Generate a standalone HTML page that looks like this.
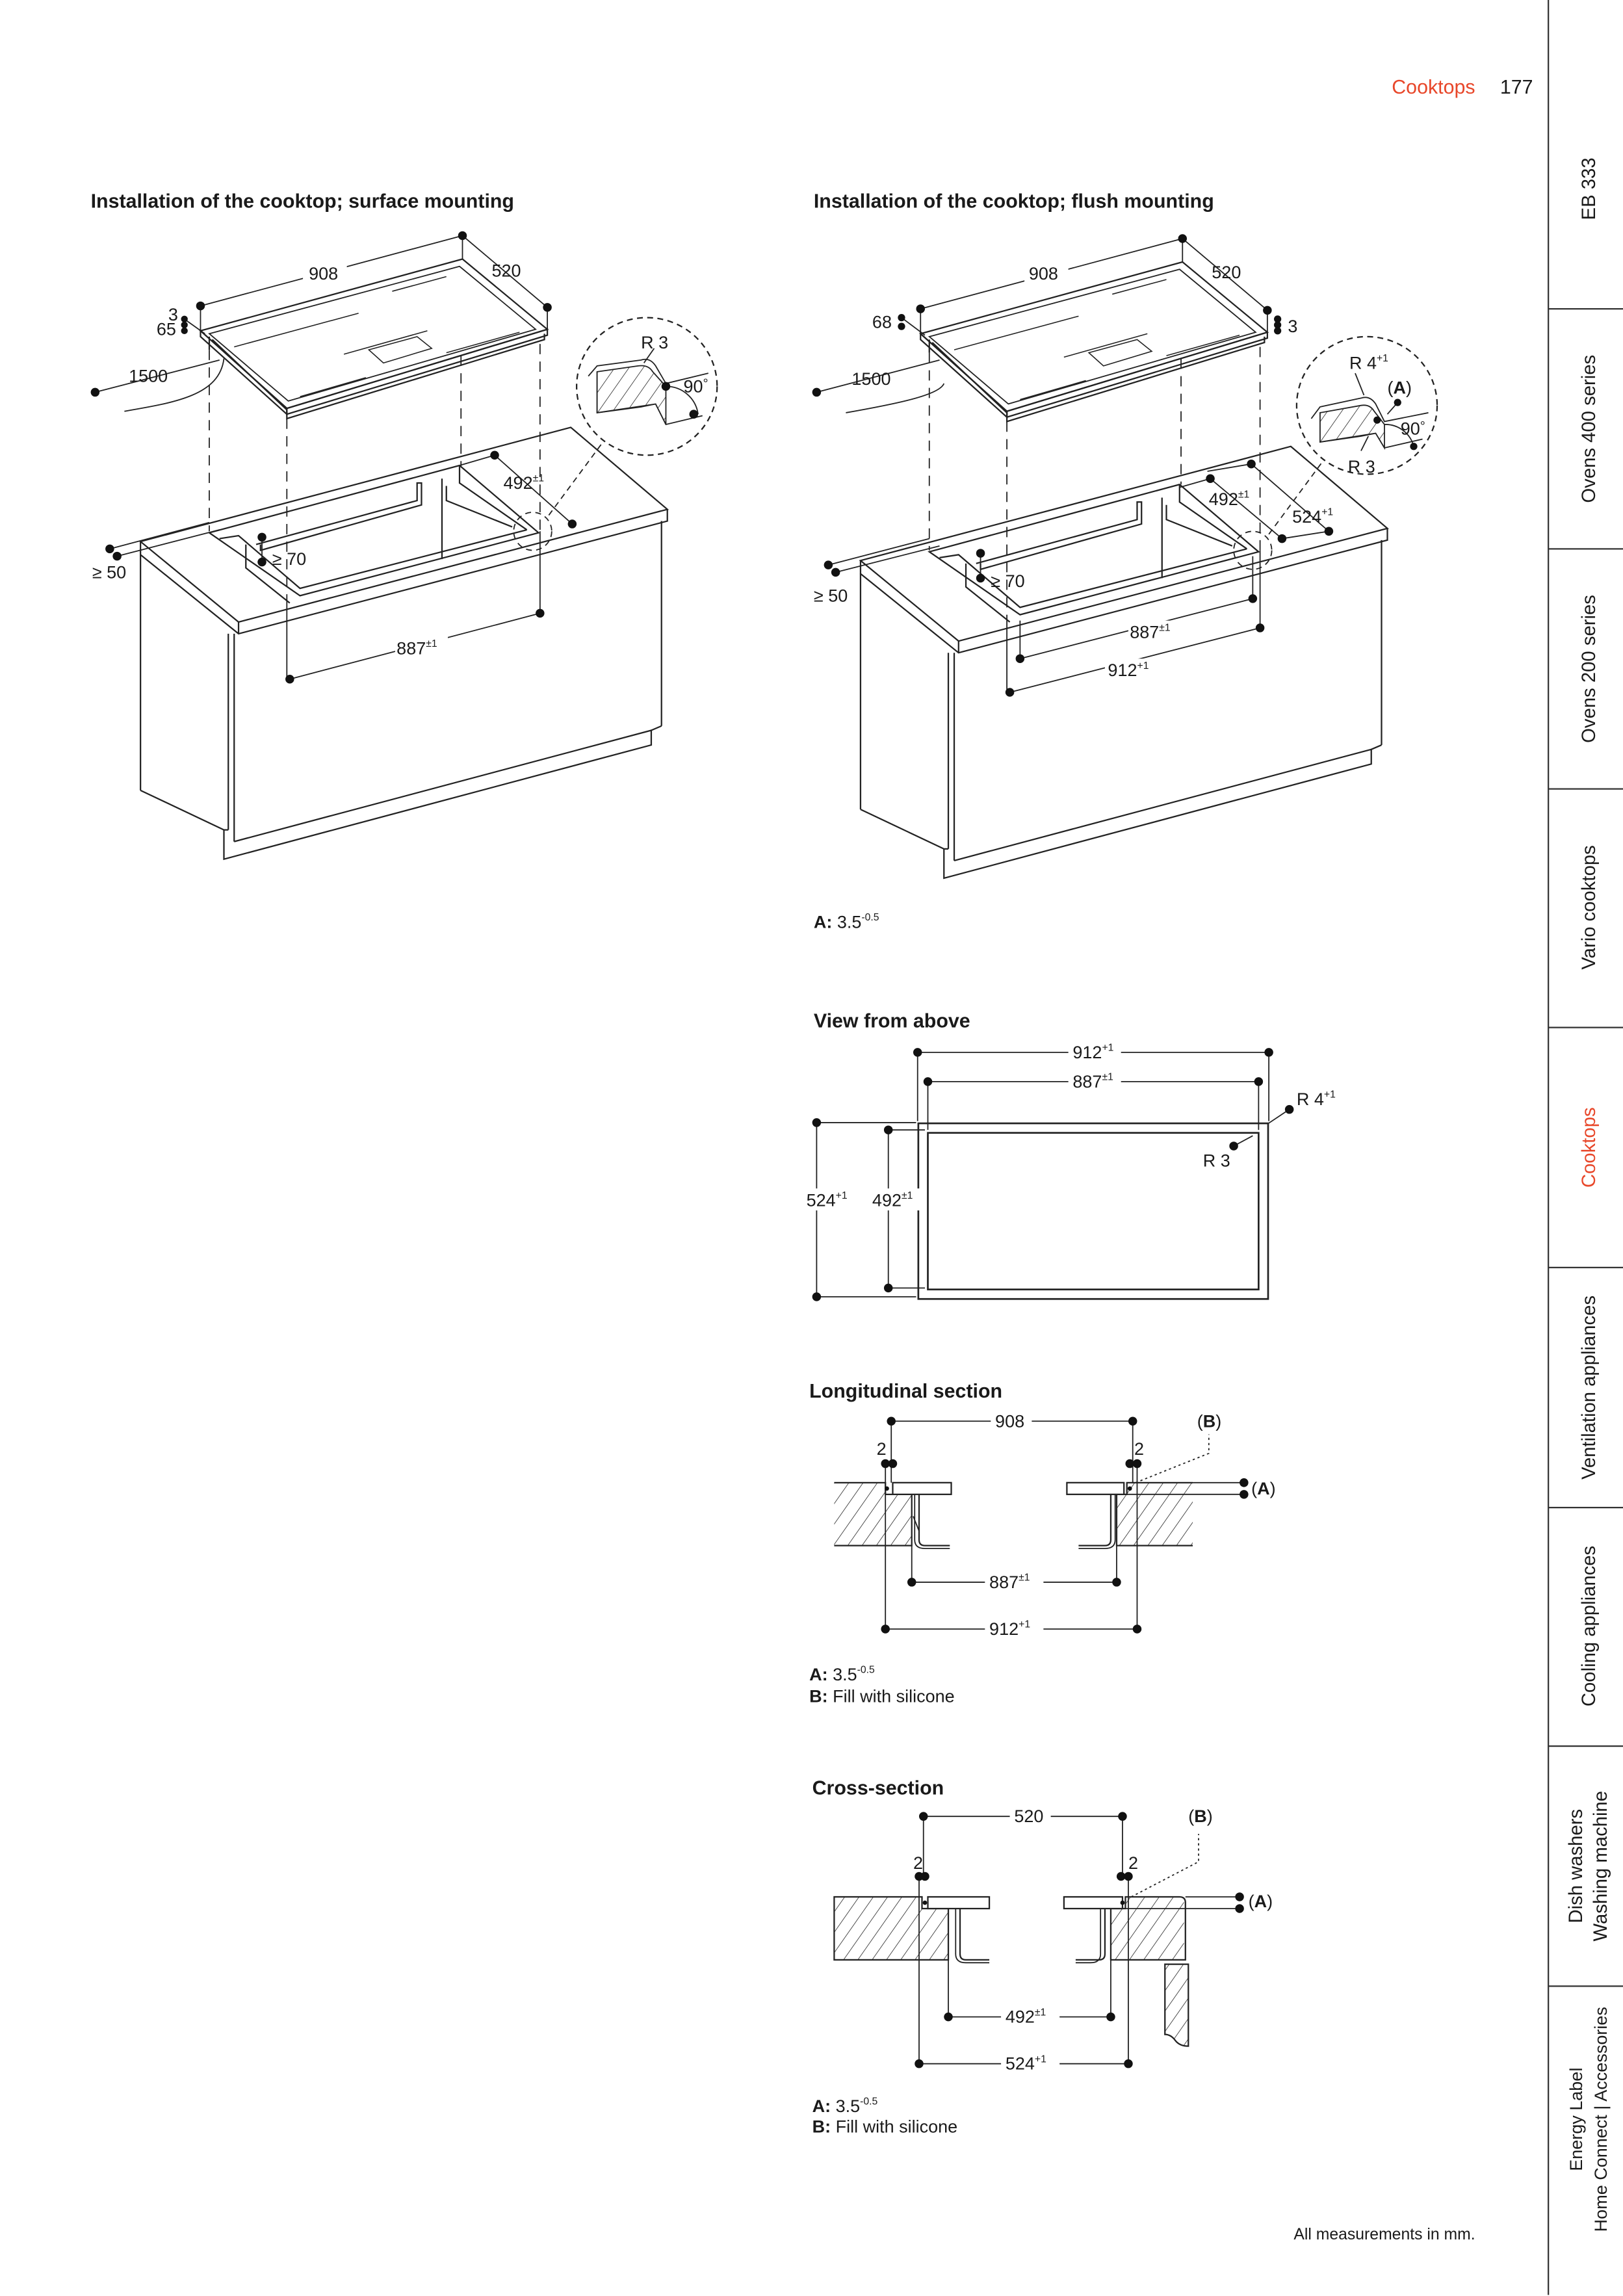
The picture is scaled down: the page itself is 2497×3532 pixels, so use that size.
<!DOCTYPE html>
<html><head><meta charset="utf-8"><style>
html,body{margin:0;padding:0;background:#fff}
svg{display:block}
text{font-family:"Liberation Sans",sans-serif;fill:#1a1a1a}
.t{font-size:12px}
.h{font-size:13.5px;font-weight:bold}
.s{font-size:7px}
</style></head><body>
<svg xmlns="http://www.w3.org/2000/svg" width="2497" height="3532" viewBox="0 0 1109 1568.7" preserveAspectRatio="none">
<defs>
<pattern id="hat" width="8" height="8" patternUnits="userSpaceOnUse" patternTransform="rotate(35)">
<rect width="8" height="8" fill="#fff"/><line x1="0" y1="0" x2="0" y2="8" stroke="#222" stroke-width="0.7"/></pattern>
<g id="top" fill="none" stroke="#222" stroke-width="1">
<polygon points="137,226 316,177 374,225 196,279" fill="#fff"/>
<polygon points="137,226 196,279 196,283 137,230"/>
<polygon points="196,279 374,225 374,229 196,283"/>
<polygon points="143,228 314,182 366,225 197,274" stroke-width="0.8"/>
<polyline points="145,232 196,280 196,286 372,232 372,228"/>
<line x1="143" y1="230" x2="143" y2="239"/>
<line x1="160" y1="237" x2="245" y2="214" stroke-width="0.7"/>
<line x1="268" y1="199" x2="305" y2="189" stroke-width="0.7"/>
<line x1="235" y1="242" x2="292" y2="226" stroke-width="0.7"/>
<polygon points="252,239 285,230 295,238 262,248" stroke-width="0.7"/>
<line x1="205" y1="271" x2="250" y2="258" stroke-width="0.7"/>
<line x1="305" y1="241" x2="355" y2="227" stroke-width="0.7"/>
</g>
<g id="base" fill="none" stroke="#222" stroke-width="1">
<polygon points="96,370 390,292 456,348 163,425" fill="#fff"/>
<polyline points="96,370 96,379 163,433 456,356 456,348"/>
<line x1="163" y1="425" x2="163" y2="433"/>
<polygon points="143,364 314,318 368,364 205,407"/>
<polyline points="150,368 163,366 205,402 360,362"/>
<line x1="302" y1="327" x2="302" y2="382"/>
<polyline points="314,318 314,330 360,362"/>
<polyline points="175,372 285,342 285,330 288,330 288,345 178,376 178,372"/>
<polyline points="305,332 305,342 350,360"/>
<polyline points="168,372 168,388 198,412"/>
<line x1="96" y1="379" x2="96" y2="540"/>
<line x1="156" y1="433" x2="156" y2="567"/>
<line x1="160" y1="433" x2="160" y2="575"/>
<line x1="452" y1="356" x2="452" y2="496"/>
<polyline points="160,575 445,499 445,509 153,587 153,567"/>
<polyline points="96,540 153,567 156,567"/>
<line x1="445" y1="499" x2="452" y2="496"/>
<ellipse cx="364" cy="363" rx="13" ry="13" stroke-dasharray="4,3" stroke-width="0.8"/>
<ellipse cx="442" cy="264" rx="48" ry="47" fill="#fff" stroke-dasharray="4,3" stroke-width="1"/>
<line x1="375" y1="352" x2="412" y2="302" stroke-dasharray="4,3" stroke-width="0.8"/>
</g>
</defs>

<!-- header -->
<text x="951" y="64" style="font-size:13.5px;fill:#e8472a">Cooktops</text>
<text x="1025" y="64" style="font-size:13.5px">177</text>

<!-- sidebar -->
<g stroke="#333" stroke-width="1">
<line x1="1058" y1="0" x2="1058" y2="1568"/>
<line x1="1058" y1="211" x2="1109" y2="211"/>
<line x1="1058" y1="375" x2="1109" y2="375"/>
<line x1="1058" y1="539" x2="1109" y2="539"/>
<line x1="1058" y1="702" x2="1109" y2="702"/>
<line x1="1058" y1="866" x2="1109" y2="866"/>
<line x1="1058" y1="1030" x2="1109" y2="1030"/>
<line x1="1058" y1="1193" x2="1109" y2="1193"/>
<line x1="1058" y1="1357" x2="1109" y2="1357"/>
</g>
<g style="font-size:13px" text-anchor="middle">
<text transform="translate(1090,129) rotate(-90)">EB 333</text>
<text transform="translate(1090,293) rotate(-90)">Ovens 400 series</text>
<text transform="translate(1090,457) rotate(-90)">Ovens 200 series</text>
<text transform="translate(1090,620) rotate(-90)">Vario cooktops</text>
<text transform="translate(1090,784) rotate(-90)" style="fill:#e8472a">Cooktops</text>
<text transform="translate(1090,948) rotate(-90)">Ventilation appliances</text>
<text transform="translate(1090,1111) rotate(-90)">Cooling appliances</text>
<text transform="translate(1081,1275) rotate(-90)">Dish washers</text>
<text transform="translate(1098,1275) rotate(-90)">Washing machine</text>
<text transform="translate(1081,1448) rotate(-90)" style="font-size:12px">Energy Label</text>
<text transform="translate(1098,1448) rotate(-90)" style="font-size:12px">Home Connect | Accessories</text>
</g>

<!-- titles -->
<text class="h" x="62" y="142">Installation of the cooktop; surface mounting</text>
<text class="h" x="556" y="142">Installation of the cooktop; flush mounting</text>

<!-- LEFT iso -->
<use href="#base"/>
<use href="#top"/>
<g fill="none" stroke="#222" stroke-width="0.8">
<g stroke-dasharray="7,5">
<line x1="143" y1="239" x2="143" y2="363"/>
<line x1="196" y1="286" x2="196" y2="407"/>
<line x1="315" y1="243" x2="315" y2="319"/>
<line x1="369" y1="235" x2="369" y2="363"/>
</g>
<line x1="137" y1="209" x2="316" y2="161"/><line x1="316" y1="161" x2="374" y2="210"/>
<line x1="137" y1="209" x2="137" y2="226"/><line x1="316" y1="161" x2="316" y2="177"/><line x1="374" y1="210" x2="374" y2="225"/>
<line x1="196" y1="407" x2="196" y2="464"/><line x1="369" y1="363" x2="369" y2="419"/>
<line x1="198" y1="464" x2="369" y2="419"/>
<line x1="314" y1="318" x2="338" y2="311"/><line x1="338" y1="311" x2="391" y2="358"/>
<line x1="126" y1="218" x2="140" y2="228"/>
<line x1="65" y1="268" x2="150" y2="246"/>
<path d="M85,281 C120,275 150,270 153,245"/>
<line x1="75" y1="375" x2="143" y2="357"/><line x1="80" y1="380" x2="150" y2="362"/>
<line x1="179" y1="367" x2="179" y2="384"/>
<path d="M402,257 L408,250 L438,246 Q444,244 448,250 L455,262 L484,255" />
<path d="M408,254 L408,282 L438,278 L448,276 L455,290 L480,284" />
<path d="M408,254 L436,250 Q443,249 446,254 L455,264 L455,290 L448,276 L408,282 Z" fill="url(#hat)"/>
<path d="M455,264 A22,22 0 0 1 477,283"/>
<line x1="447" y1="238" x2="440" y2="248"/>
</g>
<g fill="#111">
<circle cx="137" cy="209" r="3"/><circle cx="316" cy="161" r="3"/><circle cx="374" cy="210" r="3"/>
<circle cx="198" cy="464" r="3"/><circle cx="369" cy="419" r="3"/>
<circle cx="338" cy="311" r="3"/><circle cx="391" cy="358" r="3"/>
<circle cx="126" cy="218" r="2.3"/><circle cx="126" cy="222" r="2.3"/><circle cx="126" cy="226" r="2.3"/>
<circle cx="65" cy="268" r="3"/><circle cx="75" cy="375" r="3"/><circle cx="80" cy="380" r="3"/>
<circle cx="179" cy="367" r="3"/><circle cx="179" cy="384" r="3"/>
<circle cx="455" cy="264" r="3"/><circle cx="474" cy="283" r="3"/>
</g>
<g class="t">
<rect x="207" y="178" width="30" height="14" fill="#fff"/><text x="211" y="191">908</text>
<text x="336" y="189">520</text>
<text x="115" y="219">3</text><text x="107" y="229">65</text>
<text x="88" y="261">1500</text>
<text x="63" y="395">≥ 50</text>
<text x="186" y="386">≥ 70</text>
<text x="344" y="334">492<tspan class="s" dy="-5">±1</tspan></text>
<rect x="270" y="434" width="36" height="14" fill="#fff"/><text x="271" y="447">887<tspan class="s" dy="-5">±1</tspan></text>
<text x="438" y="238">R 3</text>
<text x="467" y="268">90<tspan dy="-3" style="font-size:9px">°</tspan></text>
</g>

<!-- RIGHT iso -->
<use href="#base" transform="translate(492,13)"/>
<use href="#top" transform="translate(492,2)"/>
<g fill="none" stroke="#222" stroke-width="0.8">
<g stroke-dasharray="7,5">
<line x1="635" y1="241" x2="635" y2="376"/>
<line x1="688" y1="288" x2="688" y2="420"/>
<line x1="807" y1="245" x2="807" y2="331"/>
<line x1="861" y1="237" x2="861" y2="376"/>
</g>
<line x1="629" y1="211" x2="808" y2="163"/><line x1="808" y1="163" x2="866" y2="212"/>
<line x1="629" y1="211" x2="629" y2="228"/><line x1="808" y1="163" x2="808" y2="179"/><line x1="866" y1="212" x2="866" y2="227"/>
<line x1="616" y1="217" x2="632" y2="229"/>
<line x1="558" y1="268" x2="642" y2="246"/>
<path d="M578,282 C612,276 642,270 645,262"/>
<line x1="566" y1="386" x2="635" y2="368"/><line x1="571" y1="391" x2="642" y2="373"/>
<line x1="670" y1="378" x2="670" y2="395"/>
<line x1="688" y1="420" x2="688" y2="473"/><line x1="697" y1="424" x2="697" y2="450"/>
<line x1="856" y1="380" x2="856" y2="409"/><line x1="861" y1="376" x2="861" y2="429"/>
<line x1="697" y1="450" x2="856" y2="409"/><line x1="690" y1="473" x2="861" y2="429"/>
<line x1="806" y1="333" x2="827" y2="327"/><line x1="827" y1="327" x2="876" y2="368"/>
<line x1="825" y1="322" x2="855" y2="317"/><line x1="855" y1="317" x2="908" y2="363"/>
<line x1="876" y1="368" x2="908" y2="363"/>
<path d="M896,286 L902,278 L930,272 Q936,270 940,276 L946,288 L976,282"/>
<path d="M902,282 L902,302 L930,298 L940,296 L946,306 L972,300"/>
<path d="M902,282 L930,277 Q936,276 939,281 L946,290 L946,306 L940,296 L902,302 Z" fill="url(#hat)"/>
<path d="M946,290 A20,20 0 0 1 966,305"/>
<line x1="926" y1="255" x2="932" y2="270"/>
<line x1="955" y1="275" x2="948" y2="283"/>
<line x1="930" y1="308" x2="935" y2="298"/>
</g>
<g fill="#111">
<circle cx="629" cy="211" r="3"/><circle cx="808" cy="163" r="3"/><circle cx="866" cy="212" r="3"/>
<circle cx="616" cy="217" r="2.5"/><circle cx="616" cy="223" r="2.5"/>
<circle cx="873" cy="218" r="2.5"/><circle cx="873" cy="222" r="2.5"/><circle cx="873" cy="226" r="2.5"/>
<circle cx="558" cy="268" r="3"/><circle cx="566" cy="386" r="3"/><circle cx="571" cy="391" r="3"/>
<circle cx="670" cy="378" r="3"/><circle cx="670" cy="395" r="3"/>
<circle cx="697" cy="450" r="3"/><circle cx="856" cy="409" r="3"/>
<circle cx="690" cy="473" r="3"/><circle cx="861" cy="429" r="3"/>
<circle cx="827" cy="327" r="3"/><circle cx="876" cy="368" r="3"/>
<circle cx="855" cy="317" r="3"/><circle cx="908" cy="363" r="3"/>
<circle cx="955" cy="275" r="2.5"/><circle cx="941" cy="287" r="2.5"/><circle cx="966" cy="305" r="2.5"/>
</g>
<g class="t">
<rect x="700" y="180" width="30" height="14" fill="#fff"/><text x="703" y="191">908</text>
<text x="828" y="190">520</text>
<text x="596" y="224">68</text><text x="880" y="227">3</text>
<text x="582" y="263">1500</text>
<text x="556" y="411">≥ 50</text>
<text x="677" y="401">≥ 70</text>
<text x="826" y="345">492<tspan class="s" dy="-5">±1</tspan></text>
<text x="883" y="357">524<tspan class="s" dy="-5">+1</tspan></text>
<rect x="771" y="424" width="36" height="14" fill="#fff"/><text x="772" y="436">887<tspan class="s" dy="-5">±1</tspan></text>
<rect x="755" y="450" width="36" height="14" fill="#fff"/><text x="757" y="462">912<tspan class="s" dy="-5">+1</tspan></text>
<text x="922" y="252">R 4<tspan class="s" dy="-5">+1</tspan></text>
<text x="948" y="269">(<tspan font-weight="bold">A</tspan>)</text>
<text x="957" y="297">90<tspan dy="-3" style="font-size:9px">°</tspan></text>
<text x="921" y="323">R 3</text>
<text x="556" y="634"><tspan font-weight="bold">A:</tspan> 3.5<tspan class="s" dy="-5">-0.5</tspan></text>
</g>

<!-- View from above -->
<text class="h" x="556" y="702">View from above</text>
<g fill="none" stroke="#222">
<rect x="627.5" y="767.5" width="239" height="120" stroke-width="1.2"/>
<rect x="634" y="774" width="226" height="107" stroke-width="1.2"/>
<g stroke-width="0.8">
<line x1="627" y1="719" x2="867" y2="719"/><line x1="627" y1="719" x2="627" y2="766"/><line x1="867" y1="719" x2="867" y2="766"/>
<line x1="634" y1="739" x2="860" y2="739"/><line x1="634" y1="739" x2="634" y2="772"/><line x1="860" y1="739" x2="860" y2="772"/>
<line x1="558" y1="767" x2="626" y2="767"/><line x1="558" y1="767" x2="558" y2="886"/><line x1="558" y1="886" x2="626" y2="886"/>
<line x1="607" y1="772" x2="632" y2="772"/><line x1="607" y1="772" x2="607" y2="880"/><line x1="607" y1="880" x2="632" y2="880"/>
<line x1="866" y1="768" x2="881" y2="758"/>
<line x1="843" y1="783" x2="856" y2="776"/>
</g></g>
<g fill="#111">
<circle cx="627" cy="719" r="3"/><circle cx="867" cy="719" r="3"/>
<circle cx="634" cy="739" r="3"/><circle cx="860" cy="739" r="3"/>
<circle cx="558" cy="767" r="3"/><circle cx="558" cy="886" r="3"/>
<circle cx="607" cy="772" r="3"/><circle cx="607" cy="880" r="3"/>
<circle cx="881" cy="758" r="3"/><circle cx="843" cy="783" r="3"/>
</g>
<g class="t">
<rect x="730" y="712" width="36" height="14" fill="#fff"/><text x="733" y="723">912<tspan class="s" dy="-5">+1</tspan></text>
<rect x="730" y="732" width="36" height="14" fill="#fff"/><text x="733" y="743">887<tspan class="s" dy="-5">±1</tspan></text>
<text x="886" y="755">R 4<tspan class="s" dy="-5">+1</tspan></text>
<text x="822" y="797">R 3</text>
<rect x="550" y="812" width="34" height="15" fill="#fff"/><text x="551" y="824">524<tspan class="s" dy="-5">+1</tspan></text>
<rect x="595" y="812" width="34" height="15" fill="#fff"/><text x="596" y="824">492<tspan class="s" dy="-5">±1</tspan></text>
</g>

<!-- Longitudinal section -->
<text class="h" x="553" y="955">Longitudinal section</text>
<g stroke="#222" fill="none">
<rect x="570" y="1013" width="35" height="43" fill="url(#hat)" stroke="none"/>
<rect x="605" y="1021" width="18" height="35" fill="url(#hat)" stroke="none"/>
<path d="M570,1013 L605,1013 L605,1021 L623,1021 L623,1056 L570,1056" stroke-width="1"/>
<rect x="610" y="1013" width="40" height="8" fill="#fff"/>
<path d="M628,1021 L628,1052 Q628,1056 632,1056 L649,1056" stroke-width="1"/>
<path d="M625,1021 L625,1052 Q625,1058 632,1058 L649,1058" stroke-width="0.8"/>
<line x1="624" y1="1036" x2="628" y2="1046" stroke-width="0.8"/>
<rect x="763" y="1021" width="52" height="35" fill="url(#hat)" stroke="none"/>
<rect x="770" y="1013" width="45" height="8" fill="url(#hat)" stroke="none"/>
<path d="M815,1013 L770,1013 L770,1021 L763,1021 L763,1056 L815,1056" stroke-width="1"/>
<rect x="729" y="1013" width="39" height="8" fill="#fff"/>
<path d="M759,1021 L759,1052 Q759,1056 755,1056 L737,1056" stroke-width="1"/>
<path d="M762,1021 L762,1052 Q762,1058 755,1058 L737,1058" stroke-width="0.8"/>
<g stroke-width="0.8">
<line x1="609" y1="971" x2="774" y2="971"/>
<line x1="609" y1="971" x2="609" y2="1000"/><line x1="774" y1="971" x2="774" y2="1000"/>
<line x1="605" y1="1000" x2="605" y2="1113"/><line x1="777" y1="1000" x2="777" y2="1113"/>
<line x1="609" y1="1000" x2="609" y2="1013"/><line x1="774" y1="1000" x2="774" y2="1013"/>
<line x1="623" y1="1056" x2="623" y2="1081"/><line x1="763" y1="1056" x2="763" y2="1081"/>
<line x1="623" y1="1081" x2="763" y2="1081"/>
<line x1="605" y1="1113" x2="777" y2="1113"/>
<line x1="815" y1="1013" x2="848" y2="1013"/><line x1="770" y1="1021" x2="848" y2="1021"/>
<path d="M776,1013 L826,993 L826,980" stroke-dasharray="1.5,2"/>
</g></g>
<g fill="#111">
<circle cx="609" cy="971" r="3"/><circle cx="774" cy="971" r="3"/>
<circle cx="605" cy="1000" r="3"/><circle cx="610" cy="1000" r="3"/>
<circle cx="772" cy="1000" r="3"/><circle cx="777" cy="1000" r="3"/>
<circle cx="606" cy="1017" r="1.5"/><circle cx="772" cy="1017" r="1.5"/>
<circle cx="623" cy="1081" r="3"/><circle cx="763" cy="1081" r="3"/>
<circle cx="605" cy="1113" r="3"/><circle cx="777" cy="1113" r="3"/>
<circle cx="850" cy="1013" r="3"/><circle cx="850" cy="1021" r="3"/>
</g>
<g class="t">
<rect x="677" y="964" width="28" height="14" fill="#fff"/><text x="680" y="975">908</text>
<text x="599" y="994">2</text><text x="775" y="994">2</text>
<text x="818" y="975">(<tspan font-weight="bold">B</tspan>)</text>
<text x="855" y="1021">(<tspan font-weight="bold">A</tspan>)</text>
<rect x="673" y="1074" width="40" height="14" fill="#fff"/><text x="676" y="1085">887<tspan class="s" dy="-5">±1</tspan></text>
<rect x="673" y="1106" width="40" height="14" fill="#fff"/><text x="676" y="1117">912<tspan class="s" dy="-5">+1</tspan></text>
<text x="553" y="1148"><tspan font-weight="bold">A:</tspan> 3.5<tspan class="s" dy="-5">-0.5</tspan></text>
<text x="553" y="1163"><tspan font-weight="bold">B:</tspan> Fill with silicone</text>
</g>

<!-- Cross-section -->
<text class="h" x="555" y="1226">Cross-section</text>
<g stroke="#222" fill="none">
<rect x="570" y="1296" width="60" height="43" fill="url(#hat)" stroke="none"/>
<rect x="630" y="1304" width="18" height="35" fill="url(#hat)" stroke="none"/>
<path d="M570,1296 L630,1296 L630,1304 L648,1304 L648,1339 L570,1339 Z" stroke-width="1"/>
<rect x="634" y="1296" width="42" height="8" fill="#fff"/>
<path d="M656,1304 L656,1335 Q656,1339 660,1339 L676,1339" stroke-width="1"/>
<path d="M653,1304 L653,1335 Q653,1341 660,1341 L676,1341" stroke-width="0.8"/>
<rect x="759" y="1304" width="50" height="35" fill="url(#hat)" stroke="none"/>
<rect x="769" y="1296" width="40" height="8" fill="url(#hat)" stroke="none"/>
<path d="M806,1296 Q810,1296 810,1300 L810,1339 L759,1339 L759,1304 L769,1304 L769,1296 Z" stroke-width="1"/>
<rect x="727" y="1296" width="40" height="8" fill="#fff"/>
<path d="M755,1304 L755,1335 Q755,1339 751,1339 L735,1339" stroke-width="1"/>
<path d="M752,1304 L752,1335 Q752,1341 745,1341 L735,1341" stroke-width="0.8"/>
<path d="M796,1342 L812,1342 L812,1398 Q806,1398 803,1394 Q800,1390 796,1390 Z" fill="url(#hat)" stroke-width="1"/>
<g stroke-width="0.8">
<line x1="631" y1="1241" x2="767" y2="1241"/>
<line x1="631" y1="1241" x2="631" y2="1282"/><line x1="767" y1="1241" x2="767" y2="1282"/>
<line x1="628" y1="1282" x2="628" y2="1410"/><line x1="771" y1="1282" x2="771" y2="1410"/>
<line x1="648" y1="1339" x2="648" y2="1378"/><line x1="759" y1="1339" x2="759" y2="1378"/>
<line x1="648" y1="1378" x2="759" y2="1378"/>
<line x1="628" y1="1410" x2="771" y2="1410"/>
<line x1="810" y1="1296" x2="845" y2="1296"/><line x1="769" y1="1304" x2="845" y2="1304"/>
<path d="M773,1296 L819,1272 L819,1253" stroke-dasharray="1.5,2"/>
</g></g>
<g fill="#111">
<circle cx="631" cy="1241" r="3"/><circle cx="767" cy="1241" r="3"/>
<circle cx="628" cy="1282" r="3"/><circle cx="632" cy="1282" r="3"/>
<circle cx="766" cy="1282" r="3"/><circle cx="771" cy="1282" r="3"/>
<circle cx="632" cy="1300" r="1.5"/><circle cx="767" cy="1300" r="1.5"/>
<circle cx="648" cy="1378" r="3"/><circle cx="759" cy="1378" r="3"/>
<circle cx="628" cy="1410" r="3"/><circle cx="771" cy="1410" r="3"/>
<circle cx="847" cy="1296" r="3"/><circle cx="847" cy="1304" r="3"/>
</g>
<g class="t">
<rect x="690" y="1234" width="28" height="14" fill="#fff"/><text x="693" y="1245">520</text>
<text x="624" y="1277">2</text><text x="771" y="1277">2</text>
<text x="812" y="1245">(<tspan font-weight="bold">B</tspan>)</text>
<text x="853" y="1303">(<tspan font-weight="bold">A</tspan>)</text>
<rect x="684" y="1371" width="40" height="14" fill="#fff"/><text x="687" y="1382">492<tspan class="s" dy="-5">±1</tspan></text>
<rect x="684" y="1403" width="40" height="14" fill="#fff"/><text x="687" y="1414">524<tspan class="s" dy="-5">+1</tspan></text>
<text x="555" y="1443"><tspan font-weight="bold">A:</tspan> 3.5<tspan class="s" dy="-5">-0.5</tspan></text>
<text x="555" y="1457"><tspan font-weight="bold">B:</tspan> Fill with silicone</text>
<text x="884" y="1530" style="font-size:11px">All measurements in mm.</text>
</g>
</svg>
</body></html>
